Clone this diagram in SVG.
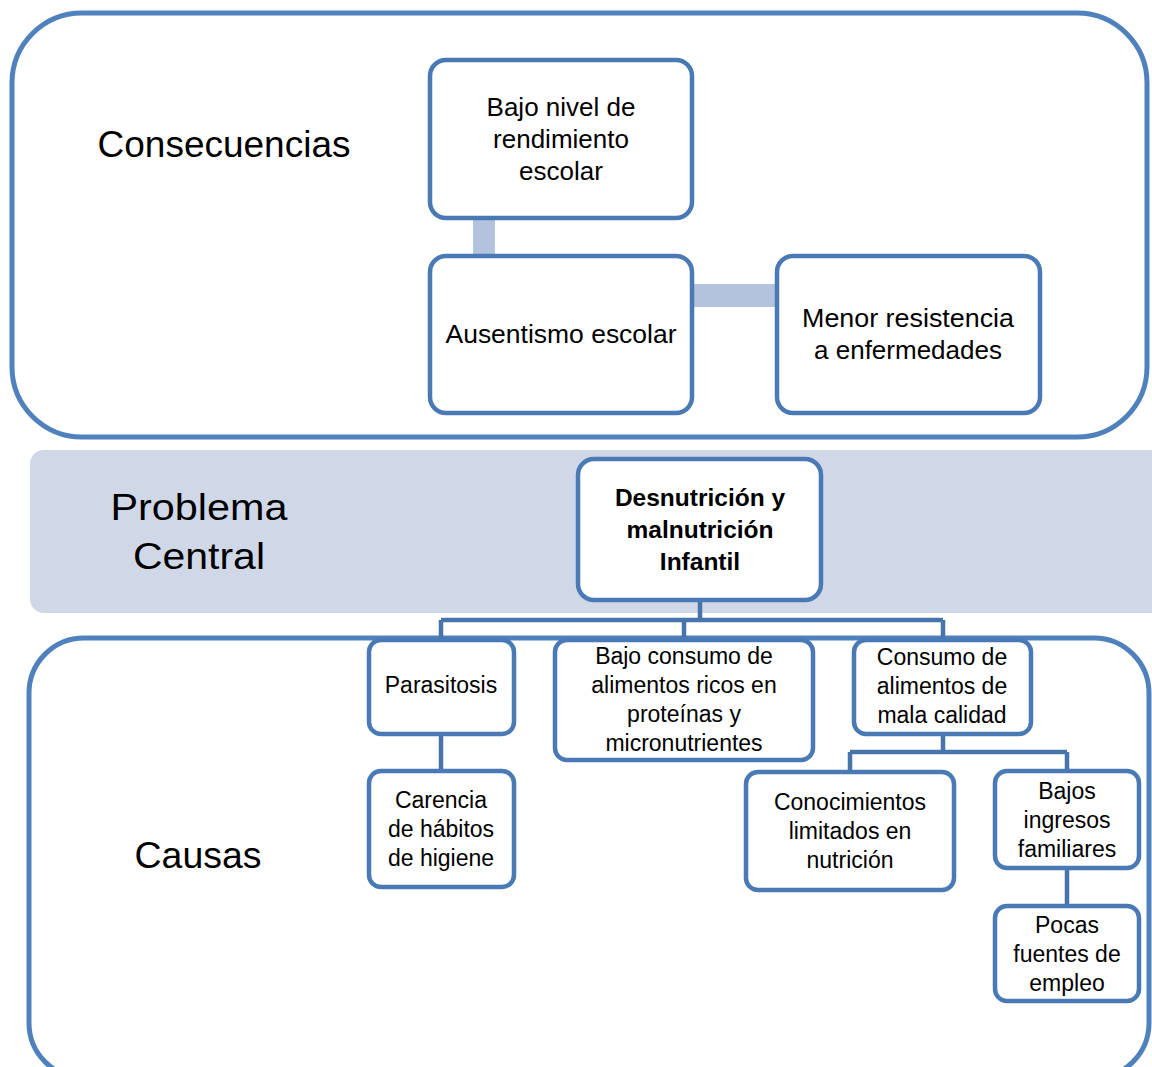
<svg xmlns="http://www.w3.org/2000/svg" width="1152" height="1067" viewBox="0 0 1152 1067">
<style>
.frame{fill:#fff;stroke:#4F81BD;stroke-width:5}
.node{fill:#fff;stroke:#4A7AB5;stroke-width:4.5}
.t{font-family:"Liberation Sans",Arial,sans-serif;fill:#000;text-anchor:middle}
.big{font-size:36px}
.top{font-size:26px}
.small{font-size:23px}
.bold{font-size:24.5px;font-weight:bold}
.thick{fill:#B3C3DE}
.tree{fill:none;stroke:#4774AB;stroke-width:4.5}
</style>
<rect x="0" y="0" width="1152" height="1067" fill="#fff"/>
<g id="section-consecuencias">
<rect class="frame" x="12" y="13" width="1135" height="424" rx="70"/>
<text class="t big" x="224" y="157" textLength="253" lengthAdjust="spacingAndGlyphs">Consecuencias</text>
</g>
<g id="section-problema">
<rect x="30" y="450" width="1150" height="163" rx="14" fill="#D0D8E8"/>
<text class="t big" x="199" y="520" font-size="38" textLength="177" lengthAdjust="spacingAndGlyphs">Problema</text>
<text class="t big" x="199" y="569" font-size="38" textLength="132" lengthAdjust="spacingAndGlyphs">Central</text>
</g>
<g id="section-causas">
<rect class="frame" x="29" y="638" width="1120" height="440" rx="55"/>
<text class="t big" x="198" y="868" textLength="127" lengthAdjust="spacingAndGlyphs">Causas</text>
</g>
<g id="connectors">
<rect class="thick" x="473" y="216" width="22" height="42"/>
<rect class="thick" x="690" y="284" width="89" height="23"/>
<path class="tree" d="M700 600V620M441 620H943M441 620V640M684 620V640M943 620V640"/>
<path class="tree" d="M441 734V771"/>
<path class="tree" d="M943 734V752M850 752H1067M850 752V772M1067 752V771"/>
<path class="tree" d="M1067 868V906"/>
</g>
<g id="n-bajo-nivel">
<rect class="node" x="430" y="60" width="262" height="158" rx="16"/>
<text class="t top" x="561" y="116">Bajo nivel de</text>
<text class="t top" x="561" y="148">rendimiento</text>
<text class="t top" x="561" y="180">escolar</text>
</g>
<g id="n-ausentismo">
<rect class="node" x="430" y="256" width="262" height="157" rx="16"/>
<text class="t top" x="561" y="343" textLength="231" lengthAdjust="spacingAndGlyphs">Ausentismo escolar</text>
</g>
<g id="n-menor">
<rect class="node" x="777" y="256" width="263" height="157" rx="16"/>
<text class="t top" x="908" y="327" textLength="212" lengthAdjust="spacingAndGlyphs">Menor resistencia</text>
<text class="t top" x="908" y="359">a enfermedades</text>
</g>
<g id="n-central">
<rect class="node" x="578" y="459" width="243" height="141" rx="16"/>
<text class="t bold" x="700" y="506">Desnutrición y</text>
<text class="t bold" x="700" y="538">malnutrición</text>
<text class="t bold" x="700" y="570">Infantil</text>
</g>
<g id="n-parasitosis">
<rect class="node" x="369" y="640" width="145" height="94" rx="12"/>
<text class="t small" x="441" y="693">Parasitosis</text>
</g>
<g id="n-bajo-consumo">
<rect class="node" x="555" y="640" width="258" height="120" rx="12"/>
<text class="t small" x="684" y="664">Bajo consumo de</text>
<text class="t small" x="684" y="693">alimentos ricos en</text>
<text class="t small" x="684" y="722">proteínas y</text>
<text class="t small" x="684" y="751">micronutrientes</text>
</g>
<g id="n-consumo-mala">
<rect class="node" x="854" y="640" width="177" height="94" rx="12"/>
<text class="t small" x="942" y="665">Consumo de</text>
<text class="t small" x="942" y="694">alimentos de</text>
<text class="t small" x="942" y="723">mala calidad</text>
</g>
<g id="n-carencia">
<rect class="node" x="369" y="771" width="145" height="116" rx="12"/>
<text class="t small" x="441" y="808">Carencia</text>
<text class="t small" x="441" y="837">de hábitos</text>
<text class="t small" x="441" y="866">de higiene</text>
</g>
<g id="n-conocimientos">
<rect class="node" x="746" y="772" width="208" height="118" rx="12"/>
<text class="t small" x="850" y="810">Conocimientos</text>
<text class="t small" x="850" y="839">limitados en</text>
<text class="t small" x="850" y="868">nutrición</text>
</g>
<g id="n-bajos-ingresos">
<rect class="node" x="995" y="771" width="144" height="97" rx="12"/>
<text class="t small" x="1067" y="799">Bajos</text>
<text class="t small" x="1067" y="828">ingresos</text>
<text class="t small" x="1067" y="857">familiares</text>
</g>
<g id="n-pocas">
<rect class="node" x="995" y="906" width="144" height="95" rx="12"/>
<text class="t small" x="1067" y="933">Pocas</text>
<text class="t small" x="1067" y="962">fuentes de</text>
<text class="t small" x="1067" y="991">empleo</text>
</g>
</svg>
